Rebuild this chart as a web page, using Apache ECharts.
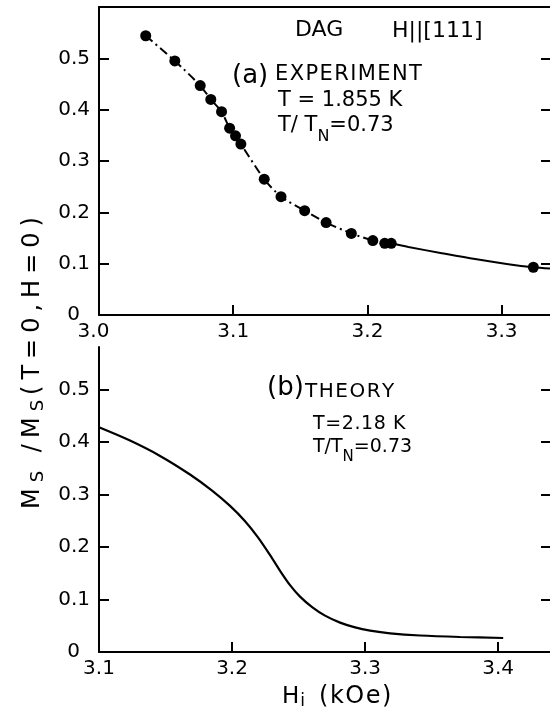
<!DOCTYPE html>
<html>
<head>
<meta charset="utf-8">
<script src="https://cdn.jsdelivr.net/npm/echarts@6/dist/echarts.min.js"></script>
<style>
html,body{margin:0;padding:0;background:#fff;}
#c{width:550px;height:717px;}
</style>
</head>
<body>
<div id="c"></div>
<script>
// (a) Experiment: measured points  H_i (kOe), Ms/Ms(T=0,H=0)
const expH = [3.0348, 3.0565, 3.0754, 3.0833, 3.0913, 3.0973, 3.1017, 3.1057, 3.1231, 3.1356, 3.1532, 3.1692, 3.188, 3.204, 3.2129, 3.2177, 3.3236];
const expM = [0.544, 0.495, 0.447, 0.420, 0.396, 0.364, 0.349, 0.333, 0.2645, 0.2306, 0.2033, 0.180, 0.159, 0.1449, 0.1397, 0.1397, 0.093];
// number of points joined by the dash-dot guide line
const dashCount = 16;
// (a) solid guide line on the high-field side
const fitH = [3.2177, 3.2305, 3.2554, 3.2802, 3.3050, 3.3236, 3.336];
const fitM = [0.1397, 0.1325, 0.1205, 0.1090, 0.0990, 0.0930, 0.0905];
// (b) Theory curve
const thH = [3.1000, 3.1233, 3.1459, 3.1684, 3.1850, 3.1985, 3.2098, 3.2195, 3.2286, 3.2361, 3.2436, 3.2511, 3.2602, 3.2699, 3.2812, 3.2925, 3.3038, 3.3188, 3.3414, 3.3714, 3.4038];
const thM = [0.4280, 0.4027, 0.3735, 0.3381, 0.3074, 0.2783, 0.2491, 0.2183, 0.1844, 0.1547, 0.1274, 0.1055, 0.0855, 0.0693, 0.0560, 0.0469, 0.0408, 0.0356, 0.0314, 0.0286, 0.0267];
// ticks and labels
const xTicksA = [3.1, 3.2, 3.3];
const xLabelsA = [3.0, 3.1, 3.2, 3.3];
const xTicksB = [3.2, 3.3, 3.4];
const xLabelsB = [3.1, 3.2, 3.3, 3.4];
const yTicks = [0.1, 0.2, 0.3, 0.4, 0.5];
const yLabels = [0, 0.1, 0.2, 0.3, 0.4, 0.5];

const FONT = 'DejaVu Sans';
const zip = (a, b) => a.map((v, i) => [v, b[i]]);

const chart = echarts.init(document.getElementById('c'), null, {renderer: 'canvas'});

const lineBlack = {color: '#000', width: 2};
function xAxisDef(grid, min, max, ticks, labels, shiftFirst) {
  return {
    type: 'value', gridIndex: grid, min: min, max: max, position: 'bottom',
    axisLine: {show: true, onZero: false, lineStyle: lineBlack},
    axisTick: {show: true, inside: true, length: 10, lineStyle: lineBlack, customValues: ticks},
    axisLabel: {show: true, customValues: labels, margin: 7, color: '#000', fontFamily: FONT, fontSize: 20,
      formatter: v => (shiftFirst && v === min) ? '{l|' + v.toFixed(1) + '}' : v.toFixed(1),
      rich: {l: {fontFamily: FONT, fontSize: 20, color: '#000', padding: [0, 11, 0, 0]}}},
    splitLine: {show: false}
  };
}
function yLeftDef(grid, max) {
  return {
    type: 'value', gridIndex: grid, min: 0, max: max, position: 'left',
    axisLine: {show: true, onZero: false, lineStyle: lineBlack},
    axisTick: {show: true, inside: true, length: 10, lineStyle: lineBlack, customValues: yTicks},
    axisLabel: {show: true, customValues: yLabels, margin: 9, color: '#000', fontFamily: FONT, fontSize: 20,
      formatter: v => v === 0 ? '{z|0}' : v.toFixed(1),
      rich: {z: {fontFamily: FONT, fontSize: 20, color: '#000', padding: [0, 10, 0, 0]}}},
    splitLine: {show: false}
  };
}
function yRightDef(grid, max) {
  return {
    type: 'value', gridIndex: grid, min: 0, max: max, position: 'right',
    axisLine: {show: false},
    axisTick: {show: true, inside: true, length: 9, lineStyle: lineBlack, customValues: yTicks},
    axisLabel: {show: false},
    splitLine: {show: false}
  };
}

// letter-spaced rich text: each character as a token of the given style
const spaced = (str, style) => str.split('').map(c => '{' + style + '|' + c + '}').join('');

function txt(id, x, y, text, size, rich) {
  const st = {text: text, fontFamily: FONT, fontSize: size, fill: '#000', align: 'left', verticalAlign: 'middle'};
  if (rich) st.rich = rich;
  return {type: 'text', id: id, x: x, y: y, style: st};
}
const tok = (size, pad) => ({fontFamily: FONT, fontSize: size, color: '#000', padding: pad});

const option = {
  animation: false,
  backgroundColor: '#fff',
  grid: [
    {left: 99, top: 7, width: 451, height: 308},
    {left: 99, top: 347, width: 451, height: 305}
  ],
  xAxis: [
    xAxisDef(0, 3.0, 3.336, xTicksA, xLabelsA, true),
    {type: 'value', gridIndex: 0, min: 3.0, max: 3.336, position: 'top',
      axisLine: {show: true, onZero: false, lineStyle: lineBlack}, axisTick: {show: false},
      axisLabel: {show: false}, splitLine: {show: false}},
    xAxisDef(1, 3.1, 3.439, xTicksB, xLabelsB, false)
  ],
  yAxis: [
    yLeftDef(0, 0.6), yRightDef(0, 0.6),
    yLeftDef(1, 0.581), yRightDef(1, 0.581)
  ],
  series: [
    {type: 'line', xAxisIndex: 0, yAxisIndex: 0, data: zip(expH.slice(0, dashCount), expM.slice(0, dashCount)),
      smooth: 0.25, showSymbol: false, lineStyle: {color: '#000', width: 2, type: [9, 4, 2, 4]}, z: 2},
    {type: 'line', xAxisIndex: 0, yAxisIndex: 0, data: zip(fitH, fitM),
      smooth: 0.3, showSymbol: false, lineStyle: {color: '#000', width: 2}, z: 2},
    {type: 'scatter', xAxisIndex: 0, yAxisIndex: 0, data: zip(expH, expM),
      symbol: 'circle', symbolSize: 11, itemStyle: {color: '#000', opacity: 1}, z: 3},
    {type: 'line', xAxisIndex: 2, yAxisIndex: 2, data: zip(thH, thM),
      smooth: 0.3, showSymbol: false, lineStyle: {color: '#000', width: 2.2}, z: 2}
  ],
  graphic: [
    txt('dag', 295, 30, 'DAG', 22),
    txt('dir', 392, 31, 'H||[111]', 22),
    txt('la', 232, 76, '(a)', 26),
    txt('exp', 275, 74.5, spaced('EXPERIMENT', 'n'), 21, {n: tok(21, [0, 1.4, 0, 0])}),
    txt('ta1', 278, 100.5, 'T = 1.855 K', 21),
    txt('ta2', 278, 125.5, '{n|T/ T}{s|N}{n|=0.73}', 21, {n: tok(21, [0, 0, 0, 0]), s: tok(16, [22, 0, 0, 0])}),
    txt('lb', 267, 388.5, '(b)', 26),
    txt('th', 305, 391.5, spaced('THEORY', 'n'), 20, {n: tok(20, [0, 1.5, 0, 0])}),
    txt('tb1', 313, 424.5, spaced('T=2.18 K', 'n'), 19, {n: tok(19, [0, 0.6, 0, 0])}),
    txt('tb2', 313, 447, '{n|T/T}{s|N}{n|=0.73}', 19, {n: tok(19, [0, 0, 0, 0]), s: tok(15, [20, 0, 0, 0])}),
    txt('xt', 282, 697, '{h|H}{s|i}' + spaced('(kOe)', 'n'), 23,
      {h: tok(23, [0, 1, 0, 0]), s: tok(17, [9, 14, 0, 0]), n: tok(24, [0, 1.5, 0, 0])}),
    {type: 'text', id: 'yt', x: 33, y: 360, rotation: Math.PI / 2, style: {
      text: '{n|M}{s|S}' + spaced(' /M', 'n') + '{s|S}' + spaced('(T=0,H=0)', 'n'),
      fontFamily: FONT, fontSize: 24, fill: '#000', align: 'center', verticalAlign: 'middle',
      rich: {n: tok(24, [0, 6, 0, 0]), s: tok(18, [10, 5, 0, 0])}}}
  ]
};
chart.setOption(option);
</script>
</body>
</html>
